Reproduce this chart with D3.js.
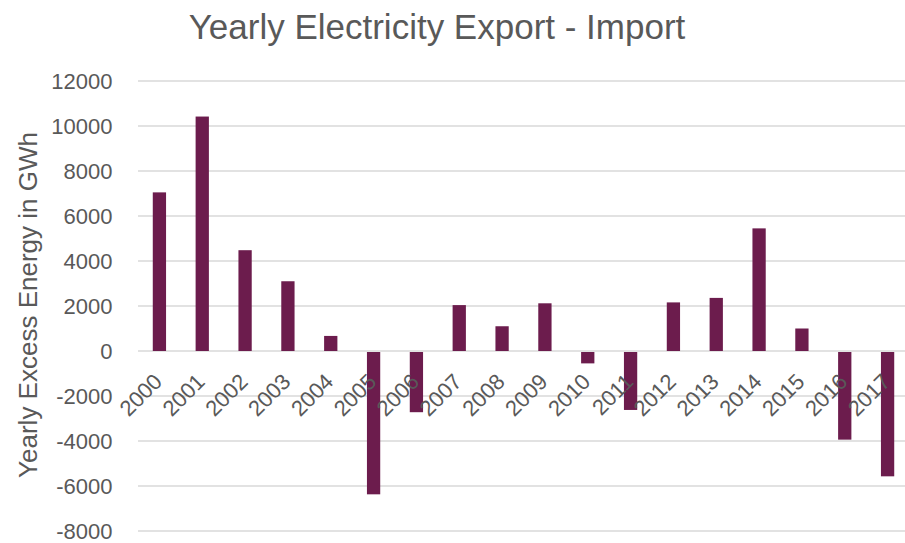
<!DOCTYPE html>
<html><head><meta charset="utf-8">
<script src="https://cdn.jsdelivr.net/npm/d3@7"></script>
<style>body{margin:0;background:#fff}svg{display:block}text{font-family:"Liberation Sans",Arial,sans-serif;fill:#595959}</style>
</head><body>
<svg id="c" width="905" height="543"></svg>
<script>
const years = ["2000","2001","2002","2003","2004","2005","2006","2007","2008","2009","2010","2011","2012","2013","2014","2015","2016","2017"];
const values = [7050,10420,4480,3100,670,-6370,-2720,2040,1100,2120,-550,-2620,2160,2360,5450,1000,-3940,-5570];
const yTicks = [-8000,-6000,-4000,-2000,0,2000,4000,6000,8000,10000,12000];
const title = "Yearly Electricity Export - Import";
const yTitle = "Yearly Excess Energy in GWh";

const svg = d3.select("#c");
const x = d3.scaleBand().domain(years).range([138, 909]).paddingInner(0.69).paddingOuter(0.345);
const y = d3.scaleLinear().domain([-8000, 12000]).range([531, 81]);

// gridlines
svg.append("g").selectAll("line").data(yTicks).join("line")
  .attr("x1", 138).attr("x2", 905)
  .attr("y1", d => y(d)).attr("y2", d => y(d))
  .attr("stroke", "#d9d9d9").attr("stroke-width", 1.5);

// y axis labels
const yAxis = d3.axisLeft(y).tickValues(yTicks).tickSize(0).tickPadding(0).tickFormat(d => String(d));
const ga = svg.append("g").attr("transform", "translate(112.5,0)").call(yAxis);
ga.select(".domain").remove();
ga.selectAll("text").style("font-size", "22px").attr("fill", "#595959").attr("dy", "0.36em");

// bars
svg.append("g").selectAll("rect").data(values).join("rect")
  .attr("x", (d, i) => x(years[i]))
  .attr("width", x.bandwidth())
  .attr("y", d => d >= 0 ? y(d) : y(0) + 1)
  .attr("height", d => Math.abs(y(d) - y(0)) - (d >= 0 ? 0 : 1))
  .attr("fill", "#6c1c4d");

// x labels
svg.append("g").selectAll("text").data(years).join("text")
  .attr("transform", d => `translate(${x(d) + x.bandwidth() / 2 + 4},${y(0) + 32}) rotate(-45)`)
  .attr("text-anchor", "end")
  .style("font-size", "22px")
  .text(d => d);

// title
svg.append("text").attr("x", 437).attr("y", 39).attr("text-anchor", "middle")
  .style("font-size", "35px").text(title);

// y title
svg.append("text").attr("transform", "translate(37,305) rotate(-90)").attr("text-anchor", "middle")
  .style("font-size", "26px").text(yTitle);
</script>
</body></html>
